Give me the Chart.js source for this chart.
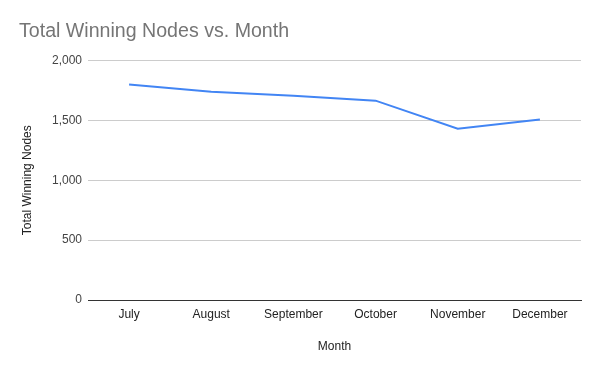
<!DOCTYPE html>
<html>
<head>
<meta charset="utf-8">
<script src="https://cdn.jsdelivr.net/npm/chart.js@4"></script>
<style>
  html, body { margin: 0; padding: 0; background: #fff; }
  #wrap { width: 600px; height: 371px; }
</style>
</head>
<body>
<div id="wrap"><canvas id="chart"></canvas></div>
<script>
// data
const months = ['July', 'August', 'September', 'October', 'November', 'December'];
const winningNodes = [1800, 1740, 1705, 1665, 1430, 1508];
const yTicks = [0, 500, 1000, 1500, 2000];

Chart.defaults.font.family = "'Liberation Sans', Arial, sans-serif";
Chart.defaults.color = '#444';

const chart = new Chart(document.getElementById('chart').getContext('2d'), {
    type: 'line',
    data: {
        labels: months,
        datasets: [{
            label: 'Total Winning Nodes',
            data: winningNodes,
            borderColor: '#4285F4',
            backgroundColor: '#4285F4',
            borderWidth: 2,
            pointRadius: 0,
            tension: 0
        }]
    },
    options: {
        responsive: true,
        maintainAspectRatio: false,
        animation: false,
        layout: { padding: { left: 19, right: 19, top: 0, bottom: 0 } },
        plugins: {
            legend: { display: false },
            tooltip: { enabled: false },
            title: {
                display: true,
                text: 'Total Winning Nodes vs. Month',
                align: 'start',
                color: '#757575',
                font: { size: 19.6, weight: 'normal' },
                padding: { top: 20, bottom: 17 }
            }
        },
        scales: {
            x: {
                offset: true,
                grid: { display: false, drawTicks: false },
                border: { display: true, color: '#333', width: 1 },
                ticks: { padding: 7, font: { size: 12 }, color: '#222', maxRotation: 0 },
                title: { display: true, text: 'Month', font: { size: 12 }, color: '#222', padding: { top: 4, bottom: 17 } },
                afterFit: scale => { scale.height = 71; }
            },
            y: {
                min: 0,
                max: 2000,
                afterBuildTicks: scale => { scale.ticks = yTicks.map(v => ({ value: v })); },
                grid: { color: '#ccc', drawTicks: false },
                border: { display: false },
                ticks: {
                    padding: 6,
                    font: { size: 12 },
                    color: '#444',
                    callback: v => v.toLocaleString('en-US')
                },
                title: { display: true, text: 'Total Winning Nodes', font: { size: 12 }, color: '#222', padding: { top: 1 } },
                afterFit: scale => { scale.width = 69; }
            }
        }
    }
});
</script>
</body>
</html>
